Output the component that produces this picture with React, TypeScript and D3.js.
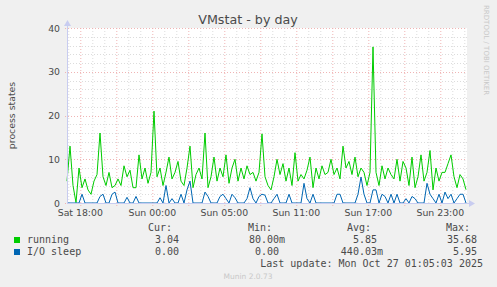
import React from "react";
import * as d3 from "d3";

// Samples every 15 min starting at the left edge of the graph (hours relative to Sat 18:00)
const sampleStep = 0.25;
const running = [
  5, 13, 4, 0.08, 8, 3.5, 5.5, 3, 2, 5, 6.5, 16,
  6, 4, 7, 3.5, 4, 5.5, 4, 8.5, 6, 7.5, 3.5, 3.5,
  11, 5.5, 8, 4.5, 7, 21, 6, 8, 4, 7, 10.5, 5.5,
  7, 9.5, 5, 4, 8, 13, 3.5, 6.5, 8, 5.5, 16, 3.5,
  6, 10.5, 5, 8, 6, 11, 4.5, 8, 10, 5, 8, 5.5,
  8.5, 6.5, 7, 5, 7, 15.8, 6, 4, 3, 6, 10, 6.5,
  9, 5, 8, 4, 11.5, 5, 6.5, 5.5, 7.5, 10.5, 3.5, 8,
  5.5, 8.5, 6.5, 7, 10, 6.5, 8, 5.5, 13, 8, 9.5, 6.5,
  10.5, 6, 8, 7, 4, 7, 35.68, 7, 4, 8.5, 5.5, 8,
  6.5, 5.5, 10, 5, 9.5, 8, 4, 10.5, 3.5, 6, 11, 5,
  7, 12, 3, 8, 5, 7, 7, 9, 11, 6, 3.5, 6.5,
  5.5, 3.04,
];
const ioSleep = [
  0, 0, 0, 0, 0, 2, 0, 0, 0, 0, 0, 1.5,
  2, 0, 0, 2, 2.5, 0, 0, 0, 1.3, 0, 0, 1.5,
  0, 0, 0, 0, 0, 0, 0, 1.2, 0, 4, 0, 1,
  0, 0, 2, 0, 3, 5, 0, 0, 0, 0, 2.5, 1.5,
  0, 0, 0, 1.5, 2, 1, 0, 2, 1.2, 0, 0, 0,
  1, 3.5, 1, 0, 1.5, 2, 1.8, 0, 0, 1, 2, 0,
  0, 0, 2, 0, 0, 0, 0, 4.5, 1, 0, 2, 0,
  0, 0, 0, 0, 0, 0, 2, 2, 0, 0, 0, 0,
  0, 2, 5.95, 2, 0, 0, 3, 3, 0, 2, 1.5, 0,
  2, 0, 2, 0, 0, 1, 0, 1.5, 1, 0, 0, 0,
  4.5, 2, 1, 0, 2, 0, 2.5, 1, 2, 0, 1, 2,
  2, 0,
];
const tickHours = [0, 6, 12, 18, 24, 30];
const tickLabels = ["Sat 18:00", "Sun 00:00", "Sun 05:00", "Sun 11:00", "Sun 17:00", "Sun 23:00"];
const yTicks = [0, 10, 20, 30, 40];
const legendNames = ["running", "I/O sleep"];
const legendColors = ["#00cc00", "#0066b3"];
const curVals = ["3.04 ", "0.00 "];
const minVals = ["80.00m", "0.00 "];
const avgVals = ["5.85 ", "440.03m"];
const maxVals = ["35.68 ", "5.95 "];

const W = 497;
const H = 287;
const L = 67;
const R = 467;
const T = 28;
const B = 203;
const tStart = -13.3 / 12;
const tEnd = tStart + (R - L) / 12;

export default function App() {
  const x = d3.scaleLinear().domain([tStart, tEnd]).range([L, R]);
  const y = d3.scaleLinear().domain([0, 40]).range([B, T]);
  const line = d3
    .line<number>()
    .x((_, i) => x(tStart + i * sampleStep))
    .y((d) => y(d));

  const minorX = d3.range(-1, 33).filter((h) => x(h) > L && x(h) < R && h % 3 !== 0);
  const majorX = d3.range(0, 33, 3).filter((h) => x(h) < R);
  const minorY = d3.range(0, 41, 2).filter((v) => v % 10 !== 0);

  const font = "'DejaVu Sans', sans-serif";
  const mono = "'DejaVu Sans Mono', monospace";
  const txt = "#4a4a4a";

  return (
    <svg
      width={W}
      height={H}
      style={{ position: "absolute", left: 0, top: 0, display: "block" }}
    >
      <rect x={0} y={0} width={W} height={H} fill="#f0f0f0" />
      <rect x={L} y={T} width={R - L} height={B - T} fill="#ffffff" />
      {minorX.map((h) => (
        <line key={"mx" + h} x1={x(h) + 0.5} x2={x(h) + 0.5} y1={T} y2={B} stroke="#dcdcdc" strokeDasharray="1,2" />
      ))}
      {minorY.map((v) => (
        <line key={"my" + v} x1={L} x2={R} y1={Math.round(y(v)) + 0.5} y2={Math.round(y(v)) + 0.5} stroke="#dcdcdc" strokeDasharray="1,2" />
      ))}
      {majorX.map((h) => (
        <line key={"Mx" + h} x1={x(h) + 0.5} x2={x(h) + 0.5} y1={T} y2={B + 3} stroke="#f0b4b4" strokeDasharray="1,2" />
      ))}
      {yTicks.map((v) => (
        <line key={"My" + v} x1={L - 2} x2={R} y1={Math.round(y(v)) + 0.5} y2={Math.round(y(v)) + 0.5} stroke="#f0b4b4" strokeDasharray="1,2" />
      ))}
      <path d={line(running) || ""} fill="none" stroke={legendColors[0]} strokeWidth={1} />
      <path d={line(ioSleep) || ""} fill="none" stroke={legendColors[1]} strokeWidth={1} />
      {/* axes */}
      <line x1={L + 0.5} x2={L + 0.5} y1={B} y2={T - 4} stroke="#c8ccf0" />
      <line x1={L} x2={R + 3} y1={B + 0.5} y2={B + 0.5} stroke="#c8ccf0" />
      <path d={`M${L - 3},${T - 2} L${L + 4},${T - 2} L${L + 0.5},${T - 8} Z`} fill="#c8ccf0" />
      <path d={`M${R + 2},${B - 3} L${R + 2},${B + 4} L${R + 8},${B + 0.5} Z`} fill="#c8ccf0" />
      {yTicks.map((v) => (
        <text key={"yl" + v} x={60} y={y(v) + 3.5} textAnchor="end" fontFamily={font} fontSize={9.33} fill={txt}>
          {v}
        </text>
      ))}
      {tickHours.map((h, i) => (
        <text key={"xl" + h} x={x(h)} y={216} textAnchor="middle" fontFamily={font} fontSize={9.33} fill={txt}>
          {tickLabels[i]}
        </text>
      ))}
      <text x={248} y={24} textAnchor="middle" fontFamily={font} fontSize={12.7} fill={txt}>
        VMstat - by day
      </text>
      <text
        transform={`translate(15,${(T + B) / 2}) rotate(-90)`}
        textAnchor="middle"
        fontFamily={font}
        fontSize={9.33}
        fill={txt}
      >
        process states
      </text>
      <text
        transform={`translate(484,5) rotate(90)`}
        textAnchor="start"
        fontFamily={font}
        fontSize={7}
        fill="#c8c8c8"
      >
        RRDTOOL / TOBI OETIKER
      </text>
      {/* legend */}
      {[["Cur:", 172], ["Min:", 272], ["Avg:", 371], ["Max:", 470]].map(([s, xe]) => (
        <text key={s as string} x={xe as number} y={231} textAnchor="end" fontFamily={mono} fontSize={10} fill={txt}>
          {s}
        </text>
      ))}
      {legendNames.map((n, i) => {
        const yy = 243 + i * 12;
        return (
          <g key={n}>
            <rect x={14} y={yy - 6} width={6} height={6} fill={legendColors[i]} />
            <text x={27} y={yy} fontFamily={mono} fontSize={10} fill={txt}>
              {n}
            </text>
            <text x={185} y={yy} textAnchor="end" fontFamily={mono} fontSize={10} fill={txt} style={{ whiteSpace: "pre" }}>
              {curVals[i]}
            </text>
            <text x={285} y={yy} textAnchor="end" fontFamily={mono} fontSize={10} fill={txt} style={{ whiteSpace: "pre" }}>
              {minVals[i]}
            </text>
            <text x={383} y={yy} textAnchor="end" fontFamily={mono} fontSize={10} fill={txt} style={{ whiteSpace: "pre" }}>
              {avgVals[i]}
            </text>
            <text x={483} y={yy} textAnchor="end" fontFamily={mono} fontSize={10} fill={txt} style={{ whiteSpace: "pre" }}>
              {maxVals[i]}
            </text>
          </g>
        );
      })}
      <text x={483} y={267} textAnchor="end" fontFamily={mono} fontSize={10} fill={txt}>
        Last update: Mon Oct 27 01:05:03 2025
      </text>
      <text x={248} y={279} textAnchor="middle" fontFamily={font} fontSize={7.5} fill="#c8c8c8">
        Munin 2.0.73
      </text>
    </svg>
  );
}
